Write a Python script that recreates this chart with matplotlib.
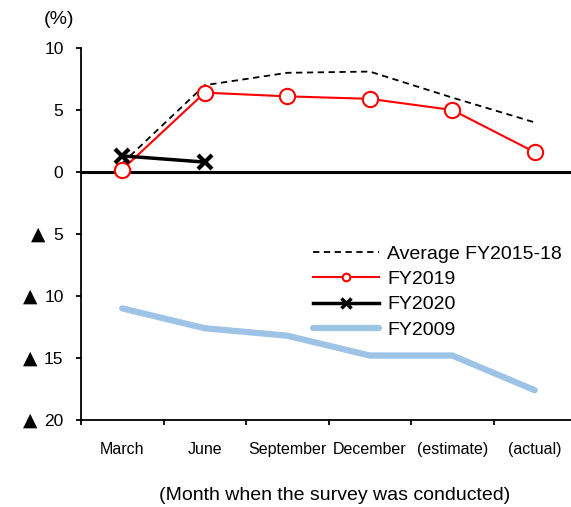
import matplotlib
matplotlib.use("Agg")
import matplotlib.pyplot as plt
from matplotlib.lines import Line2D
from matplotlib.transforms import blended_transform_factory, offset_copy
import numpy as np

plt.rcParams['font.family'] = ['Liberation Sans', 'DejaVu Sans']

categories = ["March", "June", "September", "December", "(estimate)", "(actual)"]
avg_2015_18 = [0.7, 7.0, 8.0, 8.1, 6.0, 4.0]
fy2019 = [0.2, 6.4, 6.1, 5.9, 5.0, 1.6]
fy2020 = [1.3, 0.8]
fy2009 = [-11.0, -12.6, -13.2, -14.8, -14.8, -17.6]
yticks = [10, 5, 0, -5, -10, -15, -20]
ytick_labels = ["10", "5", "0", "5", "10", "15", "20"]

W, H = 571, 507
fig = plt.figure(figsize=(W / 100, H / 100), dpi=100)
left, right, top, bottom = 81, 576, 48, 420
ax = fig.add_axes([left / W, (H - bottom) / H, (right - left) / W, (bottom - top) / H])

x = np.arange(len(categories)) + 0.5
ax.plot(x, avg_2015_18, color='black', linestyle=(0, (3.5, 2.5)), linewidth=1.3, zorder=3)
ax.plot(x, fy2019, color='#ff0000', linewidth=1.5, marker='o', markersize=11,
        markerfacecolor='white', markeredgecolor='#ff0000', markeredgewidth=1.5, zorder=4)
ax.plot(x[:len(fy2020)], fy2020, color='black', linewidth=2.5, marker='x', markersize=10,
        markeredgewidth=3, zorder=5)
ax.plot(x, fy2009, color='#9dc3e6', linewidth=4.5, solid_capstyle='round', zorder=2)
ax.axhline(0, color='black', linewidth=2.2, zorder=3)

ax.set_xlim(0, 6)
ax.set_ylim(-20, 10)
ax.set_yticks(yticks)
ax.set_yticklabels(ytick_labels, fontsize=12.5)
ax.set_xticks(np.arange(0, 7))
ax.set_xticklabels([])
ax.set_xticks(x, minor=True)
ax.set_xticklabels(categories, minor=True, fontsize=11.5)
ax.tick_params(axis='x', which='minor', length=0, pad=16)
ax.tick_params(axis='x', which='major', length=3.6, width=1.3, direction='out')
ax.tick_params(axis='y', length=3.6, width=1.3, direction='out', pad=9)

# negative-value markers (▲) to the left of the tick numbers
trans = offset_copy(blended_transform_factory(fig.transFigure, ax.transData),
                    fig=fig, x=0, y=1.5, units='points')
for v in yticks:
    if v < 0:
        xr = 45 if v > -10 else 37
        fig.text(xr / W, v, "▲", fontsize=13.5, family='DejaVu Sans', ha='right',
                 va='center_baseline', transform=trans)

for s in ['top', 'right']:
    ax.spines[s].set_visible(False)
for s in ['left', 'bottom']:
    ax.spines[s].set_linewidth(1.3)

fig.text(59 / W, 1 - 20 / H, "(%)", fontsize=14, ha='center', va='center')
fig.text(335 / W, 1 - 495 / H, "(Month when the survey was conducted)", fontsize=14,
         ha='center', va='center')

handles = [
    Line2D([], [], color='black', linestyle=(0, (3.5, 2.5)), linewidth=1.3),
    Line2D([], [], color='#ff0000', linewidth=1.5, marker='o', markersize=5.5,
           markerfacecolor='white', markeredgecolor='#ff0000', markeredgewidth=1.5),
    Line2D([], [], color='black', linewidth=2.5, marker='x', markersize=6.5, markeredgewidth=2.5),
    Line2D([], [], color='#9dc3e6', linewidth=4.5, solid_capstyle='round'),
]
labels = ["Average FY2015-18", "FY2019", "FY2020", "FY2009"]
ax.legend(handles, labels, loc='upper left', bbox_to_anchor=(313 / W, 1 - 245 / H),
          bbox_transform=fig.transFigure, frameon=False, fontsize=14,
          handlelength=3.4, handletextpad=0.4, labelspacing=0.4, borderpad=0,
          borderaxespad=0)

fig.savefig("out.png", dpi=100)
